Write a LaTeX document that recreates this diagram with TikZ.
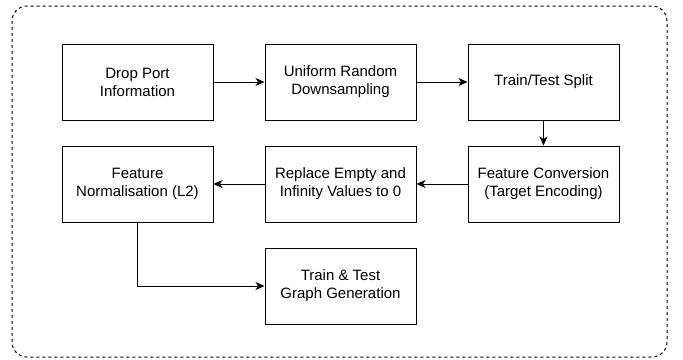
\documentclass[tikz,border=0pt]{standalone}
\usepackage{fontspec}
\setmainfont{Liberation Sans}
\usetikzlibrary{positioning,arrows.meta}
\begin{document}
\begin{tikzpicture}[x=1pt,y=1pt,
    stage/.style={draw, line width=1pt, minimum width=151pt, minimum height=76pt,
        inner sep=0pt, align=center, font=\fontsize{15}{18}\selectfont},
    flow/.style={line width=1pt, -{Stealth[length=9pt,width=8pt,inset=2.5pt]}},
    node distance=25pt and 51pt]
    \useasboundingbox (0,0) rectangle (683,-359);
    \draw [dashed, dash pattern=on 3pt off 3pt, line width=1pt, rounded corners=15pt] (12,-6) rectangle (667,-357);

    \node [stage] (drop) at (137.5,-82) {Drop Port\\Information};
    \node [stage, right=of drop] (downs) {Uniform Random\\Downsampling};
    \node [stage, right=of downs] (split) {Train/Test Split};
    \node [stage, below=of split] (conv) {Feature Conversion\\(Target Encoding)};
    \node [stage, below=of downs] (clean) {Replace Empty and\\Infinity Values to 0};
    \node [stage, below=of drop] (norm) {Feature\\Normalisation (L2)};
    \node [stage, below=of clean] (graph) {Train \& Test\\Graph Generation};

    \draw [flow] (drop) -- (downs);
    \draw [flow] (downs) -- (split);
    \draw [flow] (split) -- (conv);
    \draw [flow] (conv) -- (clean);
    \draw [flow] (clean) -- (norm);
    \draw [flow] (norm.south) |- (graph.west);
\end{tikzpicture}
\end{document}
